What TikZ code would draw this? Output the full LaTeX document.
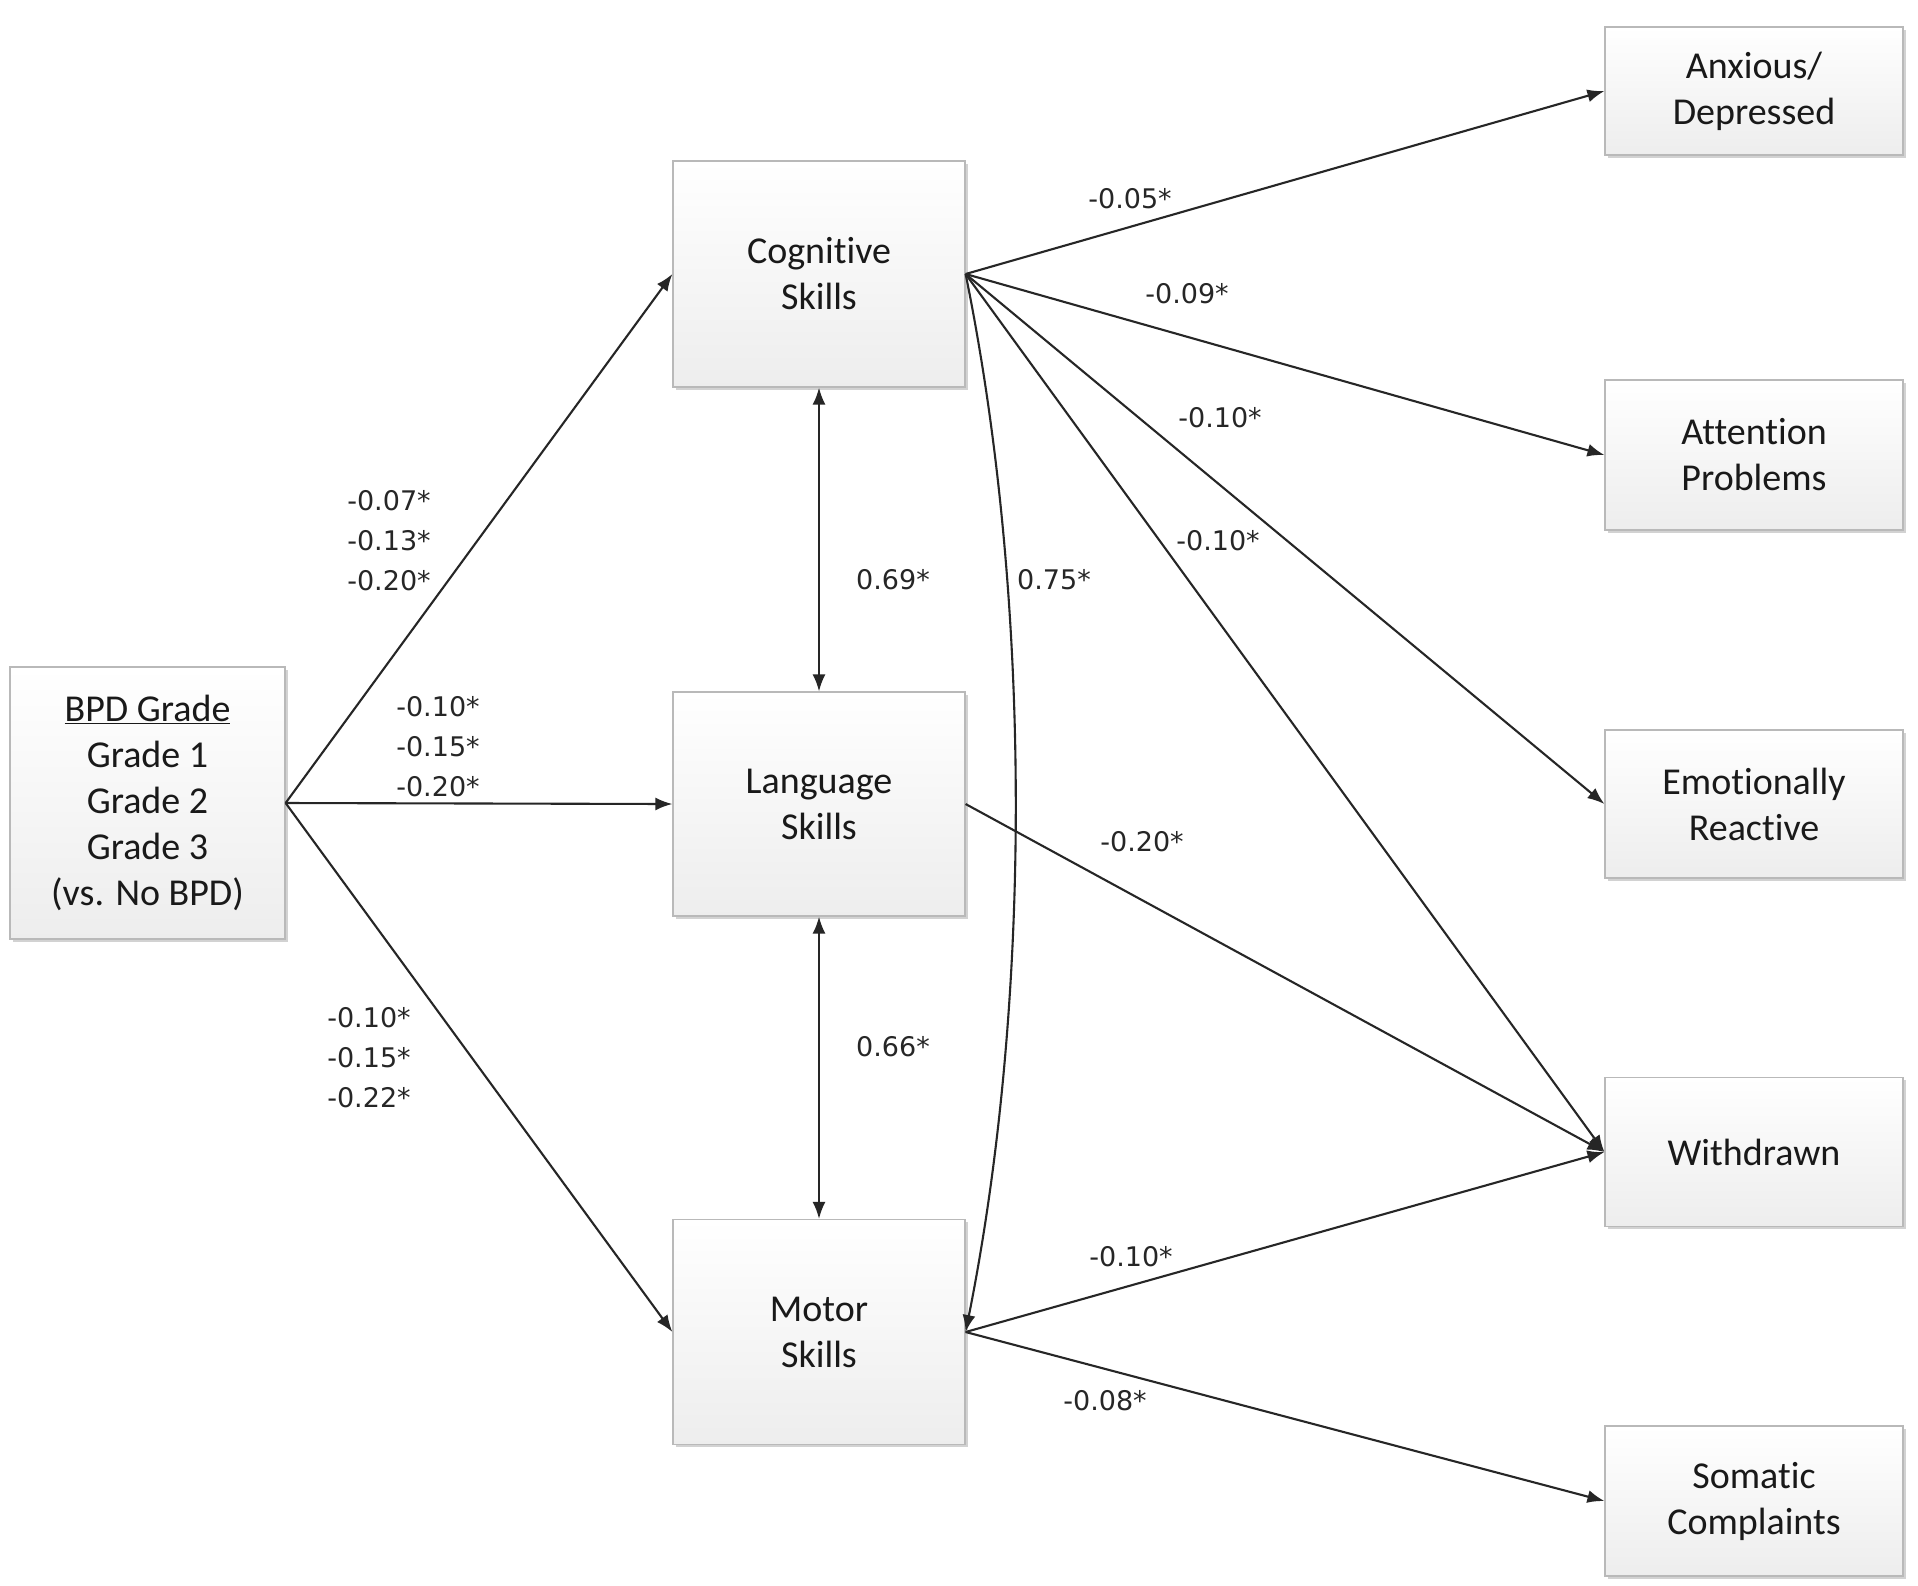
\documentclass[tikz,border=0pt]{standalone}
\usepackage{fontspec}
\setmainfont{Carlito}[Ligatures=NoCommon]
\newfontfamily\labfont{DejaVu Sans}
\usetikzlibrary{arrows.meta,shadows}
\begin{document}
\begin{tikzpicture}[x=1pt,y=-1pt,
  box/.style={draw=gray!55, line width=1.2pt, top color=white, bottom color=gray!14,
    drop shadow={shadow xshift=2.5pt, shadow yshift=-2.5pt, opacity=0.35, fill=gray},
    align=center, inner sep=0pt, font=\fontsize{38}{46}\selectfont, text=black!90},
  conn/.style={line width=2.1pt, draw=black!85, -{Latex[length=17pt,width=13pt]}},
  dconn/.style={line width=2.1pt, draw=black!85, {Latex[length=17pt,width=13pt]}-{Latex[length=17pt,width=13pt]}},
  lab/.style={font=\labfont\fontsize{27}{40}\selectfont, align=center, text=black!85, inner sep=0pt}]
\useasboundingbox (0,0) rectangle (1918,1585);
\fill[white] (0,0) rectangle (1918,1585);
% boxes
\node[box, minimum width=275pt, minimum height=272pt] (bpd) at (147.5,803) {\underline{BPD Grade}\\Grade 1\\Grade 2\\Grade 3\\(vs. No BPD)};
\node[box, minimum width=292pt, minimum height=226pt] (cog) at (819,274) {Cognitive\\Skills};
\node[box, minimum width=292pt, minimum height=224pt] (lang) at (819,804) {Language\\Skills};
\node[box, minimum width=292pt, minimum height=225pt] (mot) at (819,1332) {Motor\\Skills};
\node[box, minimum width=298pt, minimum height=128pt] (anx) at (1754,91) {Anxious/\\Depressed};
\node[box, minimum width=298pt, minimum height=150pt] (att) at (1754,455) {Attention\\Problems};
\node[box, minimum width=298pt, minimum height=148pt] (emo) at (1754,804) {Emotionally\\Reactive};
\node[box, minimum width=298pt, minimum height=149pt] (wd) at (1754,1152) {Withdrawn};
\node[box, minimum width=298pt, minimum height=150pt] (som) at (1754,1501) {Somatic\\Complaints};
% anchor coordinates
\coordinate (bpdR) at (bpd.east);
\coordinate (cogR) at (cog.east);
\coordinate (motR) at (mot.east);
% connectors from BPD
\draw[conn] (bpdR) -- (cog.west);
\draw[conn] (bpdR) -- (lang.west);
\draw[conn] (bpdR) -- (mot.west);
% correlations between mediators
\draw[dconn] (cog.south) -- (lang.north);
\draw[dconn] (lang.south) -- (mot.north);
\draw[conn] (cogR) .. controls (1032,600) and (1032,1000) .. (motR);
% outcomes
\draw[conn] (cogR) -- (anx.west);
\draw[conn] (cogR) -- (att.west);
\draw[conn] (cogR) -- (emo.west);
\draw[conn] (cogR) -- (wd.west);
\draw[conn] (lang.east) -- (wd.west);
\draw[conn] (motR) -- (wd.west);
\draw[conn] (motR) -- (som.west);
% labels
\node[lab] (l1) at (389,541) {-0.07*\\-0.13*\\-0.20*};
\node[lab] (l2) at (438,747) {-0.10*\\-0.15*\\-0.20*};
\node[lab] (l3) at (369,1058) {-0.10*\\-0.15*\\-0.22*};
\node[lab] (l4) at (893,580) {0.69*};
\node[lab] (l5) at (893,1047) {0.66*};
\node[lab] (l6) at (1054,580) {0.75*};
\node[lab] (l7) at (1130,199) {-0.05*};
\node[lab] (l8) at (1187,294) {-0.09*};
\node[lab] (l9) at (1220,418) {-0.10*};
\node[lab] (l10) at (1218,541) {-0.10*};
\node[lab] (l11) at (1142,842) {-0.20*};
\node[lab] (l12) at (1131,1257) {-0.10*};
\node[lab] (l13) at (1105,1401) {-0.08*};
\end{tikzpicture}
\end{document}
